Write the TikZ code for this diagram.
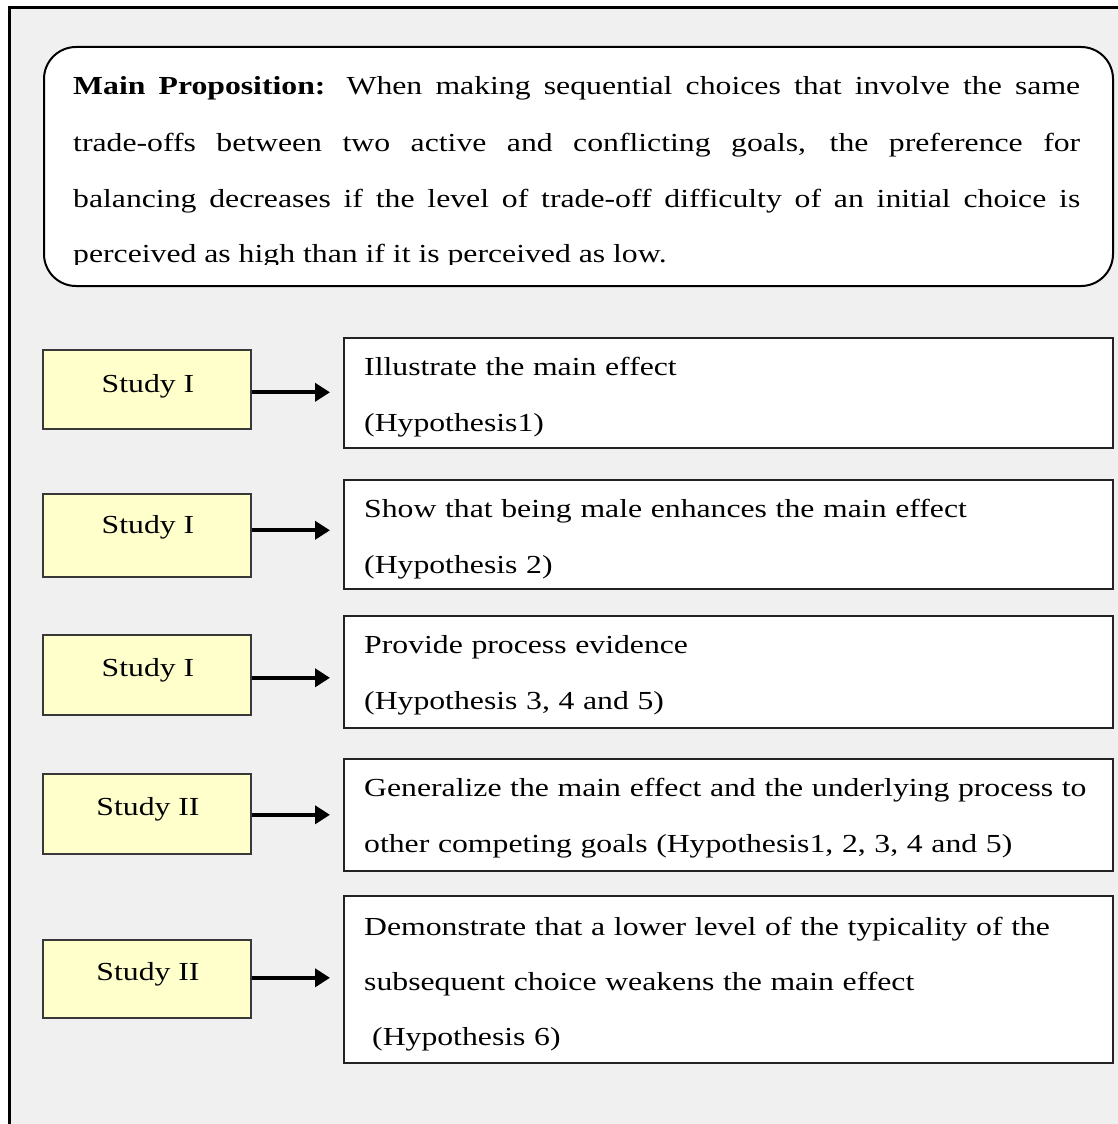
\documentclass[tikz,border=0pt]{standalone}
\usepackage{fontspec}
\setmainfont{Liberation Serif}[FakeStretch=1.22]
\usetikzlibrary{arrows.meta}
\definecolor{bggray}{HTML}{F0F0F0}
\definecolor{studyyellow}{HTML}{FFFFCC}
\definecolor{edgedark}{HTML}{222222}
\begin{document}
\begin{tikzpicture}[x=1pt,y=-1pt,
  bigfont/.style={font=\fontsize{26pt}{56pt}\selectfont},
  mainbox/.style={draw=black, line width=2pt, fill=white, rounded corners=32pt, anchor=north west, inner sep=0},
  studybox/.style={draw=edgedark!90, line width=1.6pt, fill=studyyellow, anchor=north west, inner sep=0, minimum width=208pt},
  resbox/.style={draw=edgedark, line width=2pt, fill=white, anchor=north west, inner sep=0, minimum width=769pt},
  studytext/.style={bigfont, inner sep=0, anchor=base},
  restext/.style={bigfont, inner sep=0, anchor=base west, text width=745pt, align=left},
  arr/.style={line width=4pt, -{Triangle[length=15pt,width=18pt]}, shorten >=13pt}
]
\useasboundingbox (0,0) rectangle (1118,1124);
\fill[white] (0,0) rectangle (1118,1124);
\begin{scope}
\clip (0,0) rectangle (1118,1124);
\draw[line width=3pt, fill=bggray] (9,7.5) rectangle (1140,1150);
\end{scope}

% main proposition
\node[mainbox, minimum width=1069pt, minimum height=239pt] (main) at (43,46) {};
\begin{scope}
\clip (44,47) rectangle (1111,264);
\node[bigfont, text width=1007pt, align=justify, inner sep=0, anchor=base west] (maintext) at (73,95)
 {\textbf{Main Proposition:} When making sequential choices that involve the same\linebreak
  trade-offs between two active and conflicting goals, the preference for\linebreak
  balancing decreases if the level of trade-off difficulty of an initial choice is\linebreak
  perceived as high than if it is perceived as low.};
\end{scope}

% result boxes
\node[resbox, minimum height=110pt] (r1) at (343,337) {};
\node[resbox, minimum height=109pt] (r2) at (343,479) {};
\node[resbox, minimum height=112pt] (r3) at (343,615) {};
\node[resbox, minimum height=112pt] (r4) at (343,758) {};
\node[resbox, minimum height=167pt] (r5) at (343,895) {};

\node[restext] (t1) at (364,375) {Illustrate the main effect\\(Hypothesis1)};
\node[restext] (t2) at (364,517) {Show that being male enhances the main effect\\(Hypothesis 2)};
\node[restext] (t3) at (364,653) {Provide process evidence\\(Hypothesis 3, 4 and 5)};
\node[restext] (t4) at (364,796) {Generalize the main effect and the underlying process to\\other competing goals (Hypothesis1, 2, 3, 4 and 5)};
\node[restext, font=\fontsize{26pt}{55pt}\selectfont] (t5) at (364,935) {Demonstrate that a lower level of the typicality of the\\subsequent choice weakens the main effect\\\hspace*{8pt}(Hypothesis 6)};

% study boxes
\node[studybox, minimum height=79pt] (s1) at (42,349) {};
\node[studybox, minimum height=83pt] (s2) at (42,493) {};
\node[studybox, minimum height=80pt] (s3) at (42,634) {};
\node[studybox, minimum height=80pt] (s4) at (42,773) {};
\node[studybox, minimum height=78pt] (s5) at (42,939) {};

\node[studytext] (l1) at (148,392) {Study I};
\node[studytext] (l2) at (148,533) {Study I};
\node[studytext] (l3) at (148,676) {Study I};
\node[studytext] (l4) at (148,815) {Study II};
\node[studytext] (l5) at (148,980) {Study II};

% arrows
\draw[arr] ([yshift=-3pt]s1.east) -- ([yshift=-3pt]s1.east -| r1.west);
\draw[arr] ([yshift=5pt]s2.east) -- ([yshift=5pt]s2.east -| r2.west);
\draw[arr] ([yshift=-3pt]s3.east) -- ([yshift=-3pt]s3.east -| r3.west);
\draw[arr] ([yshift=-1pt]s4.east) -- ([yshift=-1pt]s4.east -| r4.west);
\draw[arr] ([yshift=1pt]s5.east) -- ([yshift=1pt]s5.east -| r5.west);
\end{tikzpicture}
\end{document}
